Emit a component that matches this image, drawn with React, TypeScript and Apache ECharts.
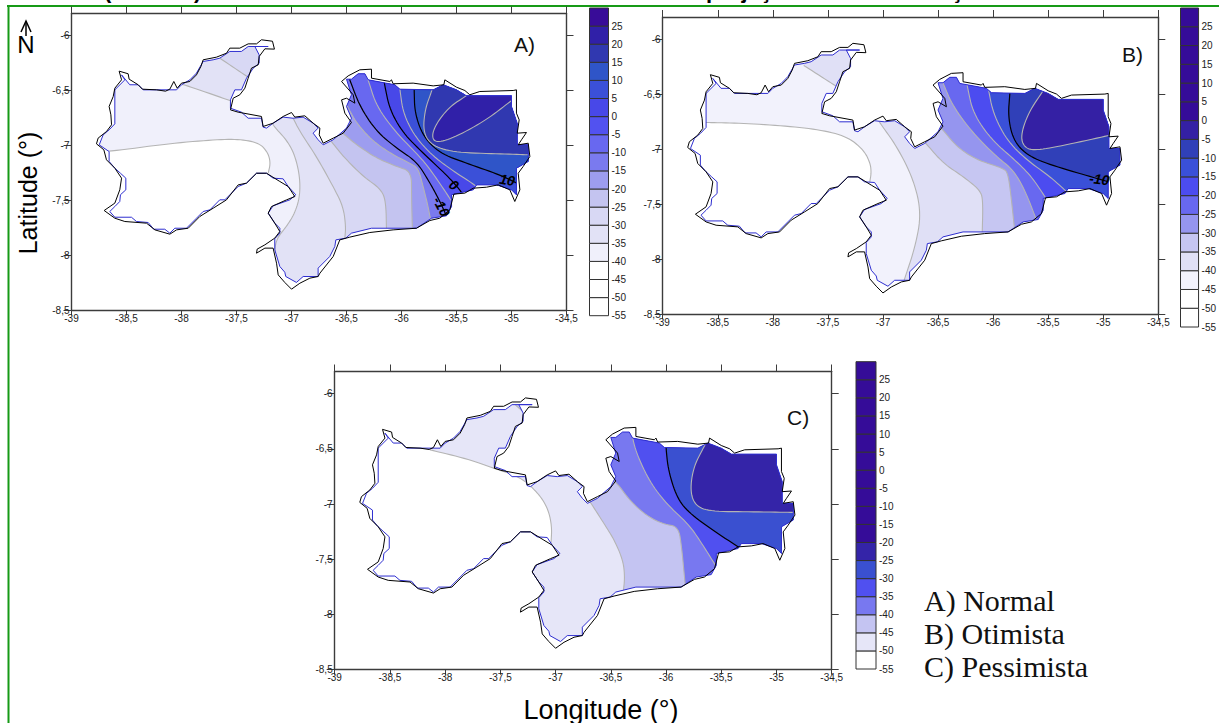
import React, { useEffect, useRef } from "react";
import * as echarts from "echarts";

type Pt = number[];
type Contour = { level: number; black?: boolean; close: string; line: Pt[] };

// degrees of longitude and latitude
const lonTicks = [-39, -38.5, -38, -37.5, -37, -36.5, -36, -35.5, -35, -34.5];
const latTicks = [-8.5, -8, -7.5, -7, -6.5, -6];
const levelTicks = [-55, -50, -45, -40, -35, -30, -25, -20, -15, -10, -5, 0, 5, 10, 15, 20, 25];

const stateOutline: Pt[] = [
  [-38.773,-6.985],[-38.758,-6.933],[-38.682,-6.873],[-38.636,-6.812],[-38.642,-6.721],[-38.658,-6.645],[-38.621,-6.555],[-38.606,-6.479],[-38.545,-6.403],[-38.567,-6.324],[-38.485,-6.348],[-38.476,-6.397],[-38.394,-6.448],[-38.355,-6.488],[-38.227,-6.494],[-38.145,-6.506],[-38.106,-6.488],[-38.07,-6.418],[-38.039,-6.479],[-38,-6.433],[-37.924,-6.418],[-37.864,-6.358],[-37.824,-6.282],[-37.803,-6.221],[-37.682,-6.197],[-37.591,-6.161],[-37.561,-6.115],[-37.47,-6.115],[-37.394,-6.076],[-37.318,-6.076],[-37.273,-6.039],[-37.173,-6.052],[-37.155,-6.124],[-37.242,-6.121],[-37.294,-6.191],[-37.303,-6.267],[-37.364,-6.297],[-37.394,-6.388],[-37.424,-6.479],[-37.47,-6.539],[-37.53,-6.57],[-37.555,-6.676],[-37.485,-6.697],[-37.273,-6.736],[-37.258,-6.827],[-37.167,-6.797],[-37.076,-6.736],[-37,-6.7],[-36.97,-6.742],[-36.879,-6.73],
  [-36.803,-6.797],[-36.742,-6.842],[-36.748,-6.903],[-36.712,-6.979],[-36.621,-6.933],[-36.53,-6.888],[-36.455,-6.791],[-36.515,-6.706],[-36.545,-6.585],[-36.5,-6.57],[-36.424,-6.615],[-36.439,-6.539],[-36.545,-6.418],[-36.485,-6.367],[-36.379,-6.312],[-36.273,-6.306],[-36.273,-6.388],[-36.106,-6.418],[-36.091,-6.403],[-36.076,-6.439],[-35.894,-6.433],[-35.712,-6.458],[-35.615,-6.448],[-35.606,-6.403],[-35.5,-6.47],[-35.424,-6.5],[-35.379,-6.539],[-35.288,-6.509],[-34.985,-6.5],[-34.955,-6.494],[-34.955,-6.706],[-34.93,-6.767],[-34.948,-6.888],[-34.864,-6.882],[-34.909,-6.948],[-34.939,-6.994],[-34.848,-6.979],[-34.833,-7.1],[-34.894,-7.191],[-34.939,-7.252],[-34.924,-7.403],[-34.97,-7.509],[-35.015,-7.403],[-35.121,-7.358],[-35.227,-7.379],[-35.348,-7.388],[-35.424,-7.433],[-35.524,-7.442],[-35.561,-7.585],[-35.652,-7.661],[-35.742,-7.682],[-35.864,-7.752],[-36.076,-7.767],[-36.288,-7.791],[-36.47,-7.833],[-36.561,-7.858],[-36.621,-8.009],[-36.742,-8.161],[-36.758,-8.191],
  [-36.833,-8.206],[-36.924,-8.252],[-37,-8.306],[-37.061,-8.245],[-37.121,-8.176],[-37.136,-8.07],[-37.167,-7.933],[-37.242,-7.933],[-37.318,-7.979],[-37.312,-7.942],[-37.242,-7.903],[-37.152,-7.842],[-37.106,-7.782],[-37.152,-7.706],[-37.212,-7.615],[-37.182,-7.555],[-37.045,-7.494],[-36.97,-7.464],[-37.03,-7.373],[-37.106,-7.327],[-37.227,-7.252],[-37.318,-7.252],[-37.409,-7.342],[-37.485,-7.358],[-37.591,-7.494],[-37.712,-7.57],[-37.833,-7.645],[-37.939,-7.752],[-38.045,-7.767],[-38.106,-7.806],[-38.242,-7.767],[-38.318,-7.706],[-38.515,-7.691],[-38.606,-7.661],[-38.703,-7.591],[-38.606,-7.524],[-38.561,-7.403],[-38.545,-7.297],[-38.606,-7.206],[-38.682,-7.13],[-38.706,-7.039],
];

const gridOutline: Pt[] = [
  [-38.748,-6.994],[-38.658,-7.055],[-38.658,-7.145],[-38.606,-7.206],[-38.555,-7.252],[-38.506,-7.297],[-38.506,-7.403],[-38.555,-7.448],[-38.561,-7.509],[-38.606,-7.555],[-38.652,-7.6],[-38.606,-7.652],[-38.455,-7.652],[-38.409,-7.691],[-38.303,-7.7],[-38.252,-7.761],[-38.152,-7.761],[-38.106,-7.797],[-38.061,-7.752],[-37.955,-7.752],[-37.864,-7.661],[-37.803,-7.6],[-37.742,-7.585],[-37.652,-7.494],[-37.606,-7.494],[-37.485,-7.373],[-37.409,-7.342],[-37.318,-7.252],[-37.227,-7.252],[-37.167,-7.297],[-37.076,-7.303],[-37.03,-7.373],[-36.961,-7.448],[-37.015,-7.494],[-37.167,-7.548],[-37.212,-7.615],[-37.152,-7.706],[-37.106,-7.752],[-37.106,-7.797],[-37.152,-7.848],[-37.152,-7.948],[-37.106,-8.1],[-37.061,-8.152],[-37.052,-8.191],[-36.955,-8.245],[-36.894,-8.191],[-36.758,-8.191],
  [-36.758,-8.115],[-36.652,-8.009],[-36.606,-7.918],[-36.597,-7.858],[-36.506,-7.842],[-36.455,-7.797],[-36.273,-7.752],[-35.864,-7.752],[-35.727,-7.661],[-35.591,-7.639],[-35.545,-7.555],[-35.545,-7.448],[-35.348,-7.403],[-35.318,-7.358],[-35.136,-7.358],[-35,-7.403],[-34.955,-7.448],[-34.955,-7.206],[-34.848,-7.145],[-34.848,-6.994],[-34.948,-6.994],[-34.948,-6.797],[-35,-6.645],[-35,-6.548],[-35.409,-6.548],[-35.5,-6.494],[-35.621,-6.448],[-35.712,-6.494],[-36.015,-6.488],[-36.061,-6.448],[-36.303,-6.403],[-36.333,-6.348],[-36.394,-6.348],[-36.455,-6.397],[-36.5,-6.397],[-36.455,-6.539],[-36.5,-6.645],[-36.455,-6.752],[-36.5,-6.842],[-36.621,-6.948],[-36.712,-6.994],[-36.758,-6.948],[-36.803,-6.888],[-36.758,-6.842],[-36.803,-6.797],[-36.894,-6.742],
  [-36.985,-6.752],[-37.076,-6.742],[-37.167,-6.797],[-37.227,-6.842],[-37.258,-6.833],[-37.273,-6.752],[-37.394,-6.752],[-37.455,-6.697],[-37.555,-6.661],[-37.555,-6.585],[-37.515,-6.494],[-37.455,-6.494],[-37.409,-6.388],[-37.348,-6.297],[-37.294,-6.252],[-37.294,-6.176],[-37.333,-6.1],[-37.212,-6.1],[-37.394,-6.1],[-37.455,-6.145],[-37.561,-6.145],[-37.652,-6.206],[-37.712,-6.221],[-37.803,-6.236],[-37.864,-6.342],[-37.924,-6.403],[-38,-6.448],[-38.045,-6.494],[-38.348,-6.494],[-38.394,-6.448],[-38.47,-6.448],[-38.545,-6.358],[-38.515,-6.403],[-38.606,-6.494],[-38.606,-6.803],[-38.658,-6.858],[-38.712,-6.903],
];

// band colours from level -55 upwards
const paletteA = ["#ffffff","#ffffff","#ffffff","#f0f0fb","#e2e2f6","#d8d8f4","#c4c4f0","#9d9def","#7a7aef","#6868f0","#5252f0","#4848e8","#3b50d8","#2f55c8","#3038b0","#3020a8","#380c98"];
const paletteB = ["#ffffff","#ffffff","#f2f2fc","#e0e0f6","#c6c6f2","#9595ef","#6868f0","#4c4cf0","#3a50d8","#3040b8","#3420a4","#350c98","#350c98","#350c98","#350c98","#350c98","#350c98"];
const paletteC = ["#ffffff","#e6e6f8","#c4c4f2","#7878f0","#5050f0","#3a50d0","#3424a8","#350c98","#350c98","#350c98","#350c98","#350c98","#350c98","#350c98","#350c98","#350c98","#350c98"];

const contoursA: Contour[] = [
  { level: -40, close: "gap", line: [[-38.85,-7.06],[-38.652,-7.055],[-38.136,-6.985],[-37.712,-6.948],[-37.47,-6.942],[-37.288,-6.979],[-37.212,-7.07],[-37.191,-7.161],[-37.212,-7.252]] },
  { level: -35, close: "lobe", line: [[-38.03,-6.44],[-37.97,-6.448],[-37.561,-6.591],[-37.53,-6.6]] },
  { level: -30, close: "lobe", line: [[-37.67,-6.195],[-37.652,-6.206],[-37.394,-6.379],[-37.36,-6.4]] },
  { level: -35, close: "south", line: [[-37.2,-6.72],[-37.182,-6.803],[-37.045,-6.948],[-36.97,-7.085],[-36.924,-7.282],[-36.924,-7.464],[-36.97,-7.615],[-37.045,-7.736],[-37.121,-7.827],[-37.152,-7.918],[-37.152,-8.07]] },
  { level: -30, close: "south", line: [[-37.015,-6.691],[-36.985,-6.752],[-36.924,-6.873],[-36.773,-7.1],[-36.621,-7.373],[-36.53,-7.555],[-36.506,-7.736],[-36.515,-7.842],[-36.52,-7.9]] },
  { level: -25, close: "south", line: [[-36.67,-6.93],[-36.636,-6.964],[-36.53,-7.1],[-36.348,-7.282],[-36.197,-7.388],[-36.142,-7.494],[-36.136,-7.8]] },
  { level: -20, close: "south", line: [[-36.56,-6.87],[-36.515,-6.903],[-36.409,-6.994],[-36.227,-7.115],[-36.045,-7.191],[-35.909,-7.236],[-35.909,-7.464],[-35.9,-7.8]] },
  { level: -15, close: "south", line: [[-36.53,-6.58],[-36.5,-6.63],[-36.409,-6.797],[-36.258,-6.964],[-36.076,-7.085],[-35.924,-7.161],[-35.848,-7.206],[-35.803,-7.373],[-35.758,-7.555],[-35.736,-7.676],[-35.72,-7.72]] },
  { level: -10, black: true, close: "south", line: [[-36.49,-6.35],[-36.47,-6.403],[-36.379,-6.645],[-36.227,-6.873],[-36.045,-7.024],[-35.864,-7.145],[-35.758,-7.312],[-35.682,-7.448],[-35.615,-7.585],[-35.585,-7.661]] },
  { level: -5, close: "south", line: [[-36.33,-6.33],[-36.303,-6.403],[-36.227,-6.645],[-36.045,-6.888],[-35.864,-7.07],[-35.758,-7.191],[-35.591,-7.433],[-35.55,-7.5]] },
  { level: 0, black: true, close: "south", line: [[-36.16,-6.4],[-36.152,-6.458],[-36.106,-6.676],[-35.985,-6.888],[-35.803,-7.07],[-35.576,-7.282],[-35.47,-7.403],[-35.44,-7.45]] },
  { level: 5, close: "south", line: [[-36.02,-6.43],[-36.015,-6.488],[-35.985,-6.706],[-35.879,-6.918],[-35.712,-7.1],[-35.5,-7.252],[-35.333,-7.358],[-35.3,-7.4]] },
  { level: 10, black: true, close: "east", line: [[-35.885,-6.44],[-35.885,-6.494],[-35.879,-6.706],[-35.803,-6.918],[-35.652,-7.07],[-35.409,-7.161],[-35.106,-7.267],[-34.939,-7.348]] },
  { level: 15, close: "east", line: [[-35.71,-6.44],[-35.721,-6.494],[-35.788,-6.676],[-35.803,-6.888],[-35.712,-7.009],[-35.5,-7.064],[-35.106,-7.076],[-34.833,-7.085]] },
  { level: 20, close: "east", line: [[-35.38,-6.52],[-35.409,-6.548],[-35.561,-6.645],[-35.682,-6.797],[-35.727,-6.918],[-35.682,-6.979],[-35.5,-6.918],[-35.227,-6.767],[-35,-6.591],[-34.97,-6.57]] },
];

const contoursB: Contour[] = [
  { level: -45, close: "gap", line: [[-38.65,-6.757],[-38.6,-6.758],[-38.297,-6.764],[-37.903,-6.788],[-37.57,-6.824],[-37.327,-6.885],[-37.176,-7.006],[-37.115,-7.127],[-37.106,-7.218],[-37.121,-7.303]] },
  { level: -40, close: "lobe", line: [[-37.72,-6.24],[-37.706,-6.248],[-37.433,-6.424],[-37.4,-6.44]] },
  { level: -40, close: "south", line: [[-37.06,-6.7],[-37.039,-6.748],[-36.873,-6.976],[-36.721,-7.279],[-36.652,-7.582],[-36.706,-7.885],[-36.812,-8.203]] },
  { level: -35, close: "south", line: [[-36.64,-6.92],[-36.606,-6.952],[-36.455,-7.127],[-36.273,-7.248],[-36.121,-7.37],[-36.091,-7.461],[-36.1,-7.8]] },
  { level: -30, close: "south", line: [[-36.53,-6.76],[-36.455,-6.824],[-36.333,-6.976],[-36.152,-7.097],[-35.909,-7.173],[-35.864,-7.218],[-35.833,-7.461],[-35.803,-7.75]] },
  { level: -25, close: "south", line: [[-36.47,-6.36],[-36.455,-6.4],[-36.364,-6.612],[-36.182,-6.855],[-35.97,-7.067],[-35.818,-7.188],[-35.712,-7.37],[-35.606,-7.642],[-35.59,-7.7]] },
  { level: -20, close: "south", line: [[-36.24,-6.39],[-36.233,-6.436],[-36.182,-6.673],[-36.015,-6.915],[-35.803,-7.097],[-35.652,-7.248],[-35.53,-7.43],[-35.5,-7.48]] },
  { level: -15, close: "south", line: [[-36.05,-6.4],[-36.045,-6.445],[-36,-6.673],[-35.879,-6.915],[-35.697,-7.097],[-35.485,-7.248],[-35.333,-7.385],[-35.3,-7.42]] },
  { level: -10, black: true, close: "east", line: [[-35.845,-6.44],[-35.848,-6.497],[-35.864,-6.703],[-35.818,-6.915],[-35.697,-7.052],[-35.485,-7.142],[-35.121,-7.248],[-34.909,-7.309]] },
  { level: -5, close: "east", line: [[-35.51,-6.42],[-35.536,-6.455],[-35.682,-6.673],[-35.752,-6.885],[-35.712,-6.991],[-35.606,-7.012],[-35.333,-6.961],[-34.924,-6.87]] },
];

const contoursC: Contour[] = [
  { level: -50, close: "gap", line: [[-38.139,-6.509],[-37.8,-6.591],[-37.542,-6.682],[-37.315,-6.758],[-37.164,-6.894],[-37.073,-7.03],[-37.033,-7.197],[-37.042,-7.364]] },
  { level: -45, close: "lobe", line: [[-37.37,-6.09],[-37.361,-6.106],[-37.3,-6.158],[-37.28,-6.17]] },
  { level: -45, close: "south", line: [[-36.72,-6.93],[-36.694,-6.97],[-36.558,-7.182],[-36.464,-7.333],[-36.388,-7.515],[-36.373,-7.667],[-36.388,-7.803],[-36.39,-7.85]] },
  { level: -40, close: "south", line: [[-36.56,-6.72],[-36.448,-6.803],[-36.327,-6.97],[-36.176,-7.106],[-36.024,-7.182],[-35.888,-7.203],[-35.858,-7.394],[-35.827,-7.727],[-35.82,-7.78]] },
  { level: -35, close: "south", line: [[-36.33,-6.3],[-36.312,-6.364],[-36.267,-6.545],[-36.145,-6.803],[-35.994,-7],[-35.797,-7.182],[-35.691,-7.333],[-35.539,-7.576],[-35.51,-7.62]] },
  { level: -30, black: true, close: "south", line: [[-36,-6.44],[-36,-6.5],[-35.979,-6.697],[-35.903,-6.939],[-35.797,-7.076],[-35.57,-7.242],[-35.327,-7.4],[-35.297,-7.424]] },
  { level: -25, close: "east", line: [[-35.63,-6.43],[-35.661,-6.491],[-35.752,-6.667],[-35.782,-6.879],[-35.736,-7.015],[-35.6,-7.067],[-35.236,-7.07],[-34.836,-7.076]] },
];

const contourLabelsA = [
  { text: "-10", lon: -35.636, lat: -7.555, angle: 62 },
  { text: "0", lon: -35.524, lat: -7.358, angle: 38 },
  { text: "10", lon: -35.039, lat: -7.312, angle: 10 },
];
const contourLabelsB = [{ text: "-10", lon: -35.036, lat: -7.273, angle: 6 }];
const contourLabelsC: { text: string; lon: number; lat: number; angle: number }[] = [];

const panels = [
  { left: 71.5, top: 13.5, width: 495, height: 297, contours: contoursA, palette: paletteA, labels: contourLabelsA, bar: { left: 589.5, top: 8, width: 19, height: 307.7 } },
  { left: 662.7, top: 17, width: 495.6, height: 297.3, contours: contoursB, palette: paletteB, labels: contourLabelsB, bar: { left: 1180.5, top: 8, width: 20, height: 319 } },
  { left: 334.7, top: 371.5, width: 497, height: 298.2, contours: contoursC, palette: paletteC, labels: contourLabelsC, bar: { left: 856, top: 361.7, width: 20, height: 307.3 } },
];

const legendLines = ["A) Normal", "B) Otimista", "C) Pessimista"];
const comma = (v: number) => String(v).replace(".", ",");
const AXIS = "#3c3c3c";
const TICK_FONT = { fontFamily: "Liberation Sans", fontSize: 10, color: "#222" };

// rounds a contour's corners, so that its fill and its line follow the same curve
function rounded(points: Pt[]): Pt[] {
  let out = points;
  for (let n = 0; n < 3; n++) {
    const next: Pt[] = [out[0]];
    for (let i = 0; i < out.length - 1; i++) {
      const a = out[i];
      const b = out[i + 1];
      next.push([a[0] * 0.75 + b[0] * 0.25, a[1] * 0.75 + b[1] * 0.25]);
      next.push([a[0] * 0.25 + b[0] * 0.75, a[1] * 0.25 + b[1] * 0.75]);
    }
    next.push(out[out.length - 1]);
    out = next;
  }
  return out;
}

function ringOf(c: Contour): Pt[] {
  const a = c.line[0];
  const b = c.line[c.line.length - 1];
  const curve = rounded(c.line);
  const north = [[-34, -5.5], [a[0], -5.5]];
  if (c.close === "east") return [...curve, [-34, b[1]], ...north];
  if (c.close === "lobe") return [...curve, [-37, b[1]], [-37, -5.5], [a[0], -5.5]];
  if (c.close === "gap") return [...curve, [-37.3, -7.5], [-37.3, -9], [-34, -9], ...north];
  return [...curve, [b[0], -9], [-34, -9], ...north];
}

function buildOption() {
  const grid: any[] = [];
  const xAxis: any[] = [];
  const yAxis: any[] = [];
  const series: any[] = [];
  const line = { show: true, onZero: false, lineStyle: { color: AXIS, width: 1.4 } };

  panels.forEach((p, i) => {
    grid.push({ left: p.left, top: p.top, width: p.width, height: p.height });
    const xBase = { type: "value", gridIndex: i, min: -39, max: -34.5, interval: 0.5, splitLine: { show: false }, axisLine: line };
    xAxis.push({ ...xBase, position: "bottom", axisTick: { length: 5, lineStyle: { color: AXIS } }, axisLabel: { ...TICK_FONT, margin: 3, formatter: comma, hideOverlap: false } });
    xAxis.push({ ...xBase, position: "top", axisTick: { length: 7, lineStyle: { color: AXIS } }, axisLabel: { show: false } });
    const yBase = { type: "value", gridIndex: i, min: -8.5, max: -5.8, interval: 0.5, splitLine: { show: false }, axisLine: line };
    yAxis.push({ ...yBase, position: "left", axisTick: { length: 8, customValues: latTicks, lineStyle: { color: AXIS } }, axisLabel: { ...TICK_FONT, margin: 2, customValues: latTicks, formatter: comma } });
    yAxis.push({ ...yBase, position: "right", axisTick: { length: 7, customValues: latTicks, lineStyle: { color: AXIS } }, axisLabel: { show: false } });
  });

  panels.forEach((p, i) => {
    const axes = { coordinateSystem: "cartesian2d", xAxisIndex: i * 2, yAxisIndex: i * 2, silent: true, clip: false };
    const rows = p.contours.map((c, k) => [c.line[0][0], c.line[0][1], k]);

    series.push({
      ...axes, type: "custom", z: 2, data: rows,
      renderItem: (_: any, api: any) => {
        const c = p.contours[api.value(2)];
        return {
          type: "group",
          clipPath: { type: "polygon", shape: { points: gridOutline.map((q) => api.coord(q)) } },
          children: [{ type: "polygon", shape: { points: ringOf(c).map((q) => api.coord(q)) }, style: { fill: p.palette[(c.level + 55) / 5] } }],
        };
      },
    });
    series.push({
      ...axes, type: "custom", z: 3, data: rows,
      renderItem: (_: any, api: any) => {
        const c = p.contours[api.value(2)];
        return {
          type: "group",
          clipPath: { type: "polygon", shape: { points: gridOutline.map((q) => api.coord(q)) } },
          children: [{ type: "polyline", shape: { points: rounded(c.line).map((q) => api.coord(q)) }, style: { fill: "none", stroke: c.black ? "#000000" : "#b4b4b4", lineWidth: c.black ? 1.2 : 1.1 } }],
        };
      },
    });
    series.push({
      ...axes, type: "custom", z: 4, data: [[gridOutline[0][0], gridOutline[0][1]]],
      renderItem: (_: any, api: any) => ({ type: "polygon", shape: { points: gridOutline.map((q) => api.coord(q)) }, style: { fill: "none", stroke: "#2e2ed0", lineWidth: 1 } }),
    });
    series.push({
      ...axes, type: "custom", z: 5, data: [[stateOutline[0][0], stateOutline[0][1]]],
      renderItem: (_: any, api: any) => ({ type: "polygon", shape: { points: stateOutline.map((q) => api.coord(q)) }, style: { fill: "none", stroke: "#000000", lineWidth: 1 } }),
    });
    if (p.labels.length) {
      series.push({
        ...axes, type: "custom", z: 6, data: p.labels.map((l) => [l.lon, l.lat, l.angle]),
        renderItem: (params: any, api: any) => {
          const pos = api.coord([api.value(0), api.value(1)]);
          return {
            type: "text", x: pos[0], y: pos[1], rotation: (-api.value(2) * Math.PI) / 180,
            style: { text: p.labels[params.dataIndex].text, fill: "#000", font: "italic bold 14px 'Liberation Sans'", textAlign: "center", textVerticalAlign: "middle" },
          };
        },
      });
    }
  });

  panels.forEach((p, i) => {
    const g = grid.length;
    grid.push(p.bar);
    xAxis.push({ type: "value", gridIndex: g, min: 0, max: 1, show: false });
    yAxis.push({
      type: "value", gridIndex: g, min: -55, max: 30, interval: 5, position: "right", splitLine: { show: false },
      axisLine: { show: false }, axisTick: { show: false },
      axisLabel: { ...TICK_FONT, margin: 3, customValues: levelTicks },
    });
    series.push({
      type: "custom", coordinateSystem: "cartesian2d", xAxisIndex: xAxis.length - 1, yAxisIndex: yAxis.length - 1, silent: true, clip: false, z: 2,
      data: levelTicks.map((lv) => [lv, lv + 5]),
      renderItem: (params: any, api: any) => {
        const a = api.coord([0, api.value(1)]);
        const b = api.coord([1, api.value(0)]);
        return { type: "rect", shape: { x: a[0], y: a[1], width: b[0] - a[0], height: b[1] - a[1] }, style: { fill: p.palette[params.dataIndex], stroke: "#333333", lineWidth: 1 } };
      },
    });
  });

  const green = "#169a16";
  const title = { fill: "#000", font: "bold 22px 'Liberation Sans'", textVerticalAlign: "bottom" };
  const graphic = [
    { type: "text", x: 104, y: 1, style: { ...title, text: "(" } },
    { type: "text", x: 194, y: 1, style: { ...title, text: ")" } },
    { type: "text", x: 706, y: 1, style: { ...title, text: "projeção" } },
    { type: "text", x: 951, y: 1, style: { ...title, text: "ção" } },
    { type: "line", shape: { x1: 7, y1: 6, x2: 1219, y2: 6 }, style: { stroke: green, lineWidth: 2 } },
    { type: "line", shape: { x1: 8.5, y1: 5, x2: 8.5, y2: 723 }, style: { stroke: green, lineWidth: 2 } },
    { type: "text", x: 26, y: 44, style: { text: "N", fill: "#000", font: "24px 'Liberation Sans'", textAlign: "center", textVerticalAlign: "middle" } },
    { type: "line", shape: { x1: 26, y1: 36, x2: 26, y2: 22 }, style: { stroke: "#000", lineWidth: 1.5 } },
    { type: "polyline", shape: { points: [[21, 32], [26, 21], [31, 32]] }, style: { fill: "none", stroke: "#000", lineWidth: 1.5 } },
    { type: "text", x: 514, y: 33.5, style: { text: "A)", fill: "#111", font: "21px 'Liberation Sans'" } },
    { type: "text", x: 1122, y: 43.5, style: { text: "B)", fill: "#111", font: "21px 'Liberation Sans'" } },
    { type: "text", x: 787, y: 406.5, style: { text: "C)", fill: "#111", font: "21px 'Liberation Sans'" } },
    { type: "text", x: 28, y: 193, rotation: Math.PI / 2, style: { text: "Latitude (°)", fill: "#000", font: "25px 'Liberation Sans'", textAlign: "center", textVerticalAlign: "middle" } },
    { type: "text", x: 601, y: 710, style: { text: "Longitude (°)", fill: "#000", font: "27px 'Liberation Sans'", textAlign: "center", textVerticalAlign: "middle" } },
    ...legendLines.map((t, i) => ({ type: "text", x: 924, y: 600 + i * 33.4, style: { text: t, fill: "#111", font: "30px 'Liberation Serif'", textVerticalAlign: "middle" } })),
  ];

  return { animation: false, backgroundColor: "#ffffff", grid, xAxis, yAxis, series, graphic };
}

export default function App() {
  const ref = useRef<HTMLDivElement>(null);
  useEffect(() => {
    const chart = echarts.init(ref.current!, undefined, { renderer: "svg" });
    chart.setOption(buildOption() as any);
    return () => chart.dispose();
  }, []);
  return <div ref={ref} style={{ position: "absolute", left: 0, top: 0, width: 1219, height: 723, overflow: "hidden" }} />;
}
